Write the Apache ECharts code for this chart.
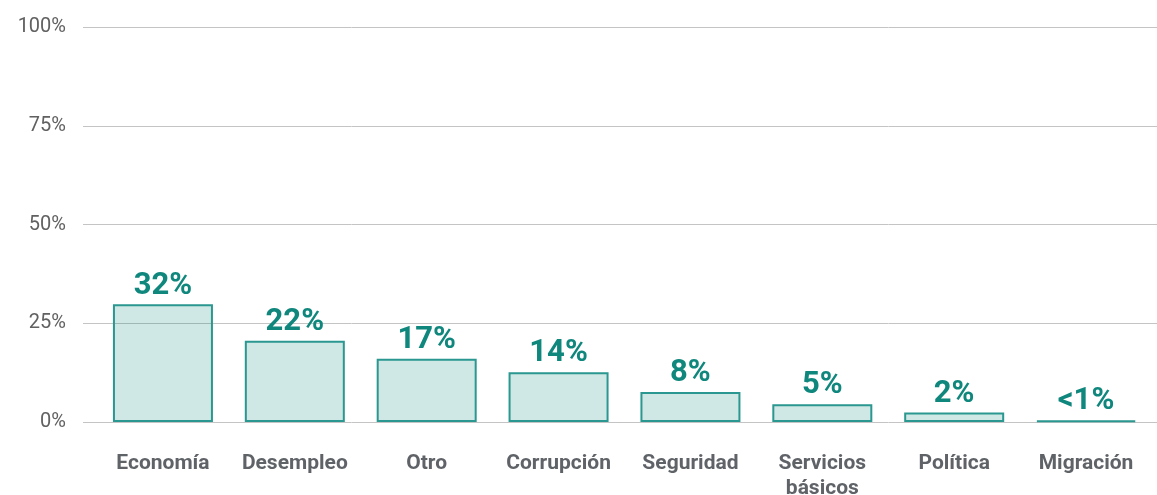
<!DOCTYPE html>
<html lang="es">
<head>
    <meta charset="UTF-8">
    <title>Problemas</title>
    <style>
        html,body{margin:0;padding:0;background:#fff;}
        #mychart{width:1157px;height:495px;}
    </style>
</head>
<body>
    <div id="mychart"></div>
    <script src="https://cdn.jsdelivr.net/npm/echarts@6/dist/echarts.min.js"></script>
    <script>
        var categories=['Economía','Desempleo','Otro','Corrupción','Seguridad','Servicios\nbásicos','Política','Migración']
        var values=[29.8,20.6,16.0,12.6,7.6,4.5,2.4,0.4]//altura de barra
        var labels=['32%','22%','17%','14%','8%','5%','2%','<1%']//etiquetas tal como aparecen
        var yTicks=[0,25,50,75,100]

        var myChart=echarts.init(document.getElementById('mychart'))
        var font='Roboto'
        var option={
            animation:false,
            grid:[
                {left:83,right:0,top:27,bottom:73,outerBoundsMode:'none'},//solo para las líneas de fondo
                {left:97,right:5,top:27,bottom:73,outerBoundsMode:'none'}
            ],
            xAxis:[
                {gridIndex:0,type:'value',show:false,min:0,max:1},
                {
                    gridIndex:1,
                    type:'category',
                    data:categories,
                    axisLine:{show:false},
                    axisTick:{show:false},
                    axisLabel:{
                        margin:29,
                        fontFamily:font,
                        fontWeight:'bold',
                        fontSize:21,
                        lineHeight:25,
                        color:'#5f6368',
                        interval:0
                    }
                }
            ],
            yAxis:[
                {
                    gridIndex:0,
                    type:'value',
                    min:0,
                    max:100,
                    interval:25,
                    axisLine:{show:false},
                    axisTick:{show:false},
                    splitLine:{lineStyle:{color:'#c4c4c4',width:1}},
                    axisLabel:{
                        margin:17,
                        fontFamily:font,
                        fontSize:20,
                        color:'#616161',
                        formatter:function(v){return yTicks.indexOf(v)>=0?v+'%':''}
                    }
                },
                {gridIndex:1,type:'value',min:0,max:100,show:false}
            ],
            series:[
                {
                    type:'bar',
                    xAxisIndex:1,
                    yAxisIndex:1,
                    data:values,
                    barWidth:100,
                    itemStyle:{
                        color:'rgba(14,138,126,0.2)',
                        borderColor:'#2a9790',
                        borderWidth:2
                    },
                    label:{
                        show:true,
                        position:'top',
                        distance:3,
                        fontFamily:font,
                        fontWeight:'bold',
                        fontSize:31,
                        color:'#0f877d',
                        formatter:function(p){return labels[p.dataIndex]}
                    }
                }
            ]
        }
        myChart.setOption(option)
    </script>
</body>
</html>
